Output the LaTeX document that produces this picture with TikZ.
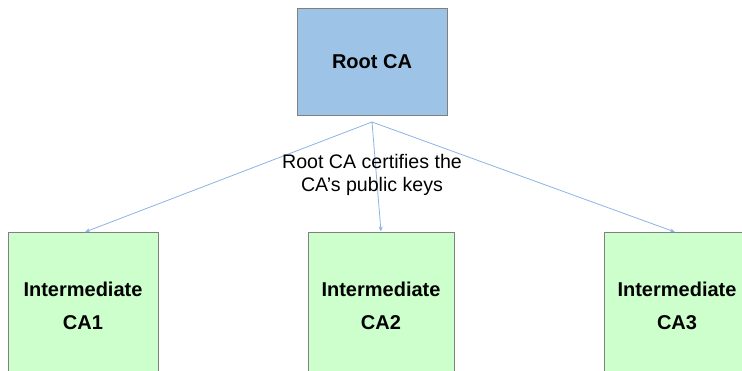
\documentclass[tikz,border=0pt]{standalone}
\usepackage{fontspec}
\setmainfont{Liberation Sans}
\usetikzlibrary{arrows.meta}
\definecolor{rootfill}{HTML}{9DC3E6}
\definecolor{interfill}{HTML}{CCFFCC}
\definecolor{boxline}{HTML}{808080}
\definecolor{linkline}{HTML}{8EB4E3}
\begin{document}
\begin{tikzpicture}[x=1pt,y=-1pt,
  cabox/.style={draw=boxline,line width=1pt,inner sep=0pt,align=center,
    font=\fontsize{20}{33}\selectfont\bfseries},
  rootbox/.style={cabox,fill=rootfill,minimum width=150pt,minimum height=107pt},
  interbox/.style={cabox,fill=interfill,minimum width=148pt,minimum height=148pt},
  link/.style={draw=linkline,line width=0.8pt,-{Stealth[length=5pt,width=4pt]}}]
\useasboundingbox (0,0) rectangle (742,370);
\clip (0,0) rectangle (742,370);
\fill[white] (0,0) rectangle (742,370);
% certificate authorities
\node[rootbox] (root) at (372,61.5) {Root CA};
\node[interbox,minimum width=150pt] (ca1) at (83,306) {Intermediate\\CA1};
\node[interbox,minimum width=146pt] (ca2) at (381,306) {Intermediate\\CA2};
\node[interbox,minimum width=146pt] (ca3) at (677,306) {Intermediate\\CA3};
% fan-out point just below the root and arrow targets on the box tops
\coordinate (apex) at (372,122);
\coordinate (t1) at (85,232);
\coordinate (t2) at (381,231.5);
\coordinate (t3) at (675,232);
\draw[link] (apex) -- (t1);
\draw[link] (apex) -- (t2);
\draw[link] (apex) -- (t3);
\node[align=center,font=\fontsize{19.6}{23}\selectfont,inner sep=0pt] (lbl) at (372,175)
  {Root CA certifies the\\CA’s public keys};
\end{tikzpicture}
\end{document}
